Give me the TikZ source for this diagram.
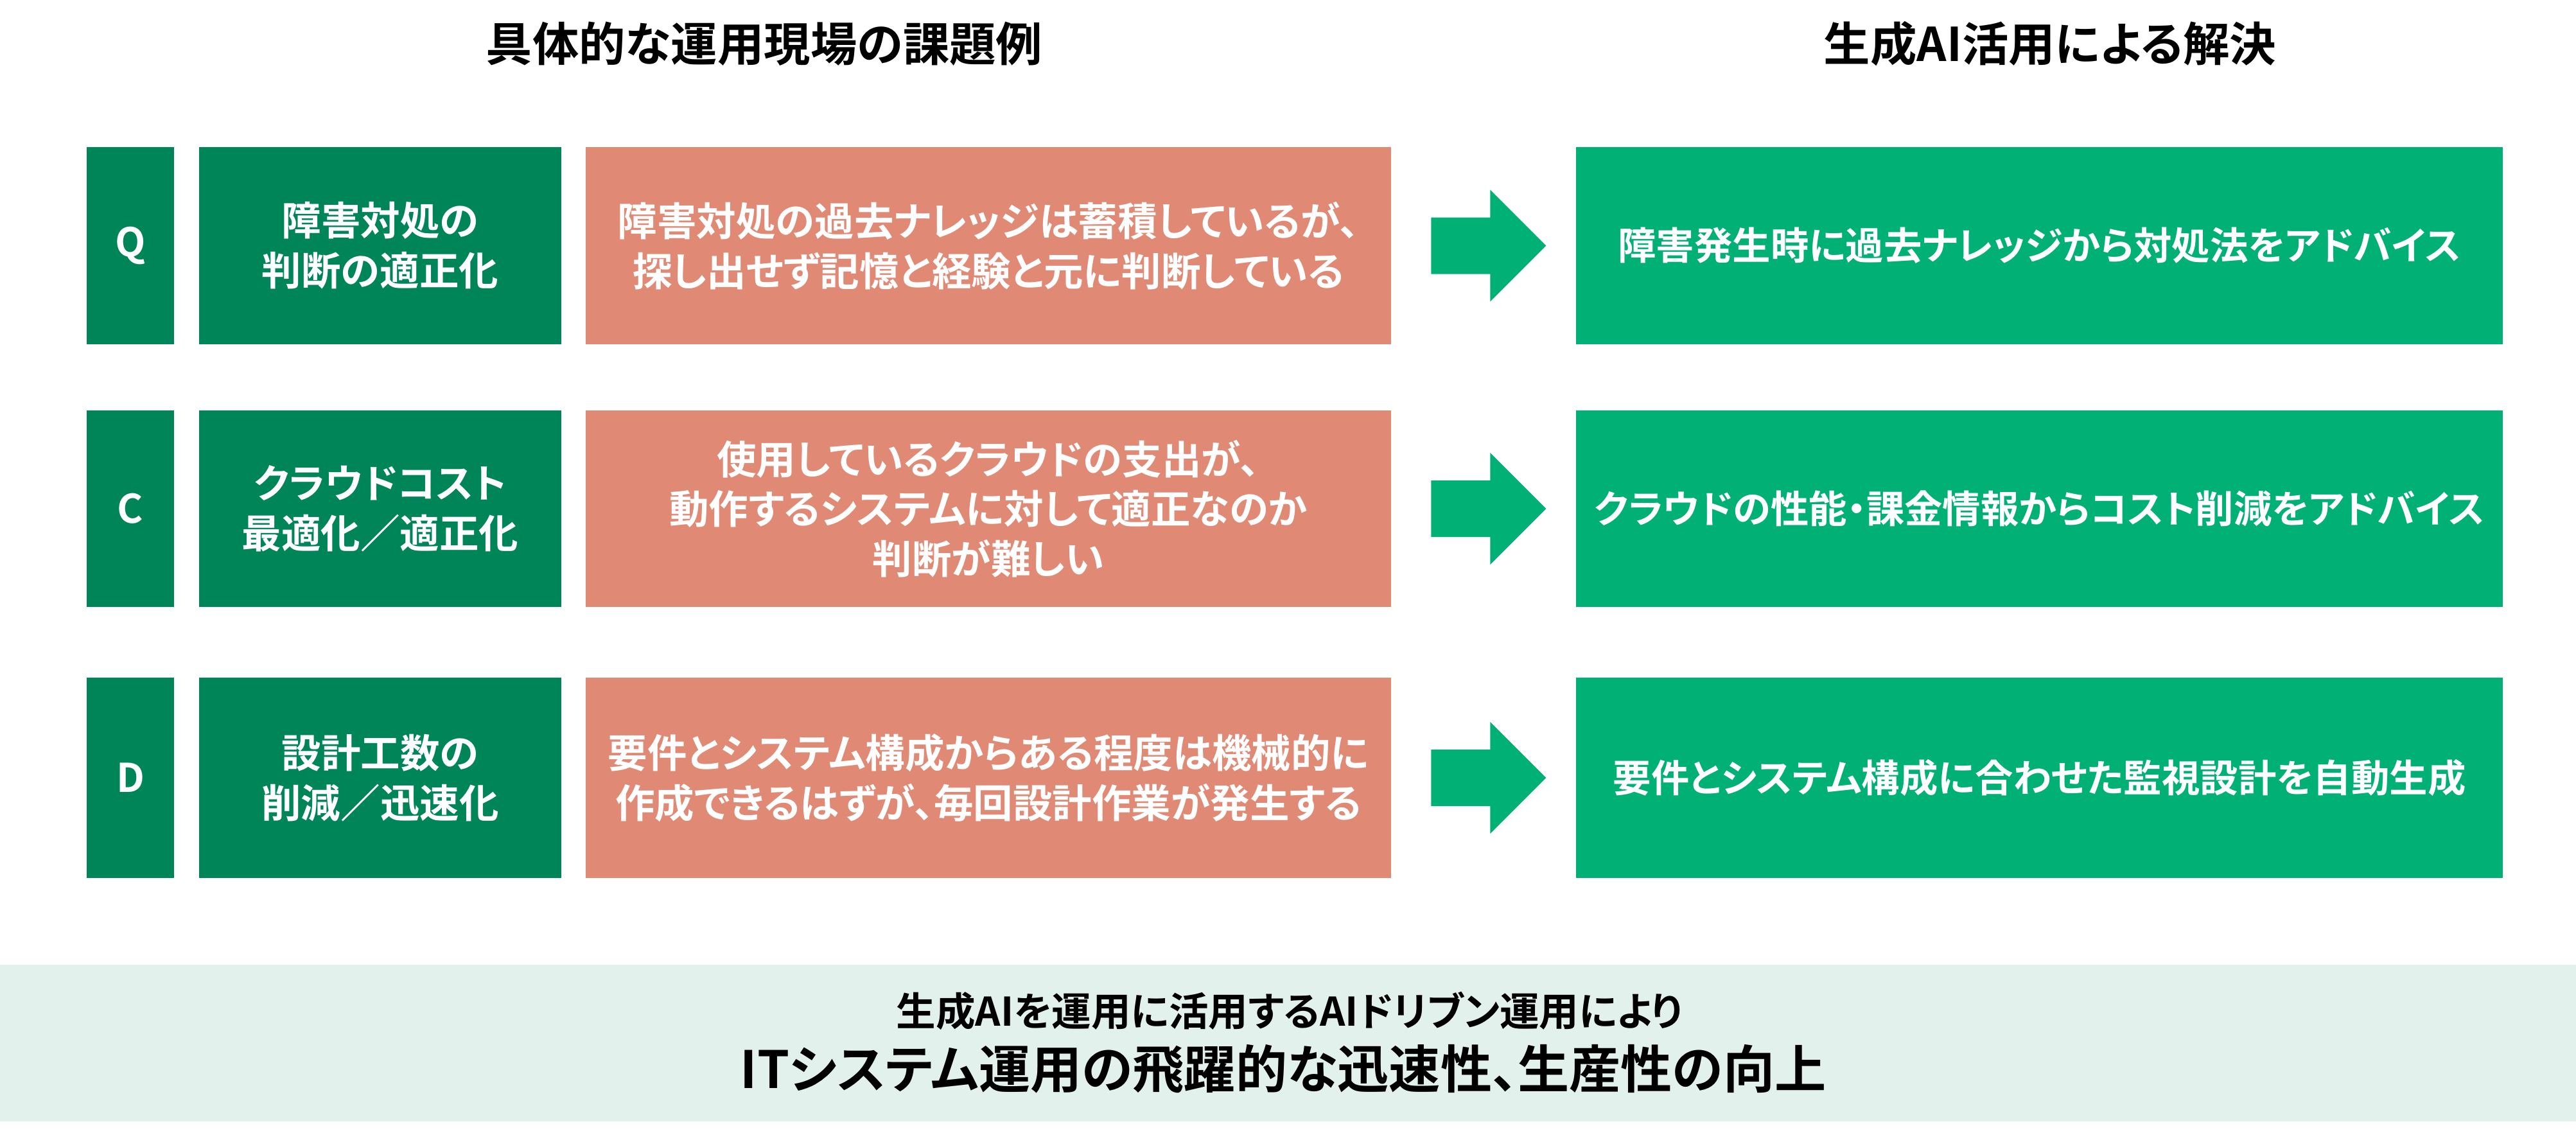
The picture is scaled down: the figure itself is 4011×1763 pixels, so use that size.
\documentclass[tikz,border=0pt]{standalone}
\usepackage{fontspec}
\setmainfont{Noto Sans CJK JP}[BoldFont={Noto Sans CJK JP Bold}, RawFeature=+palt]
\definecolor{dkgreen}{HTML}{008558}
\definecolor{salmon}{HTML}{E08974}
\definecolor{brgreen}{HTML}{00B075}
\definecolor{bandbg}{HTML}{E3F1EC}
\newcommand\blkarrow[1]{%
  \fill[brgreen] ([shift={(62,-44)}]#1.east) -- ++(92,0) -- ++(0,-43) -- ++(87,87) -- ++(-87,87) -- ++(0,-43) -- ++(-92,0) -- cycle;}
\begin{document}
\begin{tikzpicture}[x=0.01cm,y=-0.01cm,
  cell/.style={inner sep=0pt, outer sep=0pt, text=white, align=center,
    font=\bfseries\fontsize{17.5}{22.1}\selectfont},
  letter/.style={cell, fill=dkgreen, minimum width=1.36cm},
  lab/.style={cell, fill=dkgreen, minimum width=5.64cm},
  prob/.style={cell, fill=salmon, minimum width=12.54cm},
  sol/.style={cell, fill=brgreen, minimum width=14.43cm, font=\bfseries\fontsize{16.9}{21}\selectfont},
  head/.style={inner sep=0pt, font=\bfseries\fontsize{20.6}{24}\selectfont}]
\useasboundingbox (0,0) rectangle (4011,1763);
\fill[white] (0,0) rectangle (4011,1763);

\node[head] (h1) at (1190,68) {具体的な運用現場の課題例};
\node[head] (h2) at (3192,68) {生成AI活用による解決};

% row 1
\node[letter, minimum height=3.07cm] (q) at (203,382.5) {Q};
\node[lab, minimum height=3.07cm] (l1) at (592,382.5) {障害対処の\\判断の適正化};
\node[prob, minimum height=3.07cm] (p1) at (1539,382.5) {障害対処の過去ナレッジは蓄積しているが、\\探し出せず記憶と経験と元に判断している};
\node[sol, minimum height=3.07cm] (s1) at (3175.5,382.5) {障害発生時に過去ナレッジから対処法をアドバイス};
\blkarrow{p1}

% row 2
\node[letter, minimum height=3.06cm] (c) at (203,792) {C};
\node[lab, minimum height=3.06cm] (l2) at (592,792) {クラウドコスト\\最適化／適正化};
\node[prob, minimum height=3.06cm] (p2) at (1539,792) {使用しているクラウドの支出が、\\動作するシステムに対して適正なのか\\判断が難しい};
\node[sol, minimum height=3.06cm] (s2) at (3175.5,792) {クラウドの性能・課金情報からコスト削減をアドバイス};
\blkarrow{p2}

% row 3
\node[letter, minimum height=3.12cm] (d) at (203,1211) {D};
\node[lab, minimum height=3.12cm] (l3) at (592,1211) {設計工数の\\削減／迅速化};
\node[prob, minimum height=3.12cm] (p3) at (1539,1211) {要件とシステム構成からある程度は機械的に\\作成できるはずが、毎回設計作業が発生する};
\node[sol, minimum height=3.12cm] (s3) at (3175.5,1211) {要件とシステム構成に合わせた監視設計を自動生成};
\blkarrow{p3}

% bottom band
\node[fill=bandbg, inner sep=0pt, minimum width=40.11cm, minimum height=2.44cm] (band) at (2005.5,1624) {};
\node[inner sep=0pt, font=\bfseries\fontsize{17.5}{21}\selectfont] (b1) at (2008,1574) {生成AIを運用に活用するAIドリブン運用により};
\node[inner sep=0pt, font=\bfseries\fontsize{22.8}{27}\selectfont] (b2) at (1998,1664) {ITシステム運用の飛躍的な迅速性、生産性の向上};
\end{tikzpicture}
\end{document}
